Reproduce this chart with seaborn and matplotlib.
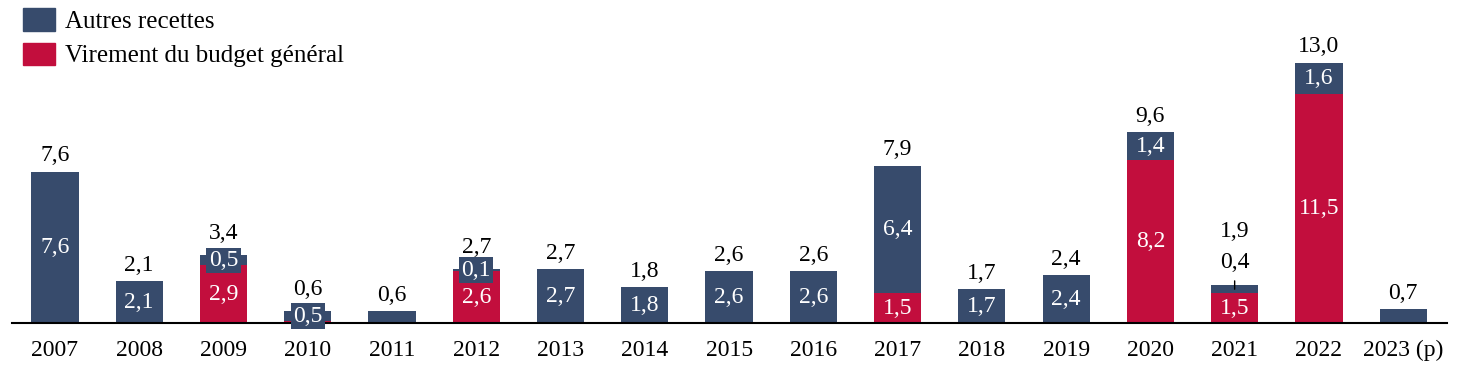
import pandas as pd
import seaborn as sns
import matplotlib.pyplot as plt
from matplotlib.patches import Patch

# données (Md€)
annees = ["2007", "2008", "2009", "2010", "2011", "2012", "2013", "2014", "2015",
          "2016", "2017", "2018", "2019", "2020", "2021", "2022", "2023 (p)"]
virement = [0, 0, 2.9, 0.1, 0, 2.6, 0, 0, 0, 0, 1.5, 0, 0, 8.2, 1.5, 11.5, 0]
autres = [7.6, 2.1, 0.5, 0.5, 0.6, 0.1, 2.7, 1.8, 2.6, 2.6, 6.4, 1.7, 2.4, 1.4, 0.4, 1.6, 0.7]
totaux = [7.6, 2.1, 3.4, 0.6, 0.6, 2.7, 2.7, 1.8, 2.6, 2.6, 7.9, 1.7, 2.4, 9.6, 1.9, 13.0, 0.7]

# étiquettes particulières
encadre = ["2009", "2010", "2012"]
au_dessus = ["2021"]
sans_etiquette = ["2011", "2023 (p)"]

NAVY = "#374B6C"
RED = "#C20E3D"
FS = 17

sns.set_style("white")
plt.rcParams['font.family'] = ['Liberation Serif', 'DejaVu Serif']
plt.rcParams['text.color'] = 'black'
plt.rcParams['xtick.color'] = 'black'


def fmt(v):
    return f"{v:.1f}".replace(".", ",")


df = pd.DataFrame({"annee": annees, "virement": virement, "autres": autres, "total": totaux})
df["empile"] = df["virement"] + df["autres"]

fig = plt.figure(figsize=(14.59, 3.79), dpi=100)
ax = fig.add_axes([12 / 1459, 56 / 379, 1435 / 1459, 323 / 379])

sns.barplot(data=df, x="annee", y="empile", color=NAVY, saturation=1, width=0.56,
            errorbar=None, linewidth=0, ax=ax)
sns.barplot(data=df, x="annee", y="virement", color=RED, saturation=1, width=0.56,
            errorbar=None, linewidth=0, ax=ax)

ax.set_xlim(-0.51, 16.52)
ax.set_ylim(0, 16.25)
ax.set_xlabel("")
ax.set_ylabel("")
ax.set_yticks([])
sns.despine(ax=ax, left=True)
ax.spines["bottom"].set_linewidth(1.5)
ax.spines["bottom"].set_color("black")
ax.tick_params(axis="x", length=0, pad=12, labelsize=FS, labelcolor="black")

for i, row in df.iterrows():
    a = row["annee"]
    v, n, tot, top = row["virement"], row["autres"], row["total"], row["empile"]
    # total au-dessus de la barre
    if a in au_dessus:
        ax.annotate(fmt(n), (i, top), xytext=(0, 9), textcoords="offset points",
                    ha="center", va="bottom", fontsize=FS)
        ax.annotate("", (i, top - 0.2), xytext=(0, 6), textcoords="offset points",
                    arrowprops=dict(arrowstyle="-", color="black", lw=1,
                                    shrinkA=0, shrinkB=0))
        ax.annotate(fmt(tot), (i, top), xytext=(0, 31), textcoords="offset points",
                    ha="center", va="bottom", fontsize=FS)
    elif a in encadre:
        ax.annotate(fmt(tot), (i, top), xytext=(0, 8), textcoords="offset points",
                    ha="center", va="bottom", fontsize=FS)
    else:
        ax.annotate(fmt(tot), (i, top), xytext=(0, 4), textcoords="offset points",
                    ha="center", va="bottom", fontsize=FS)
    # segment rouge
    if v >= 1:
        ax.text(i, v / 2, fmt(v), ha="center", va="center", color="white", fontsize=FS)
    # segment bleu
    if a in sans_etiquette or a in au_dessus:
        continue
    if a in encadre:
        ax.text(i, v + n / 2, fmt(n), ha="center", va="center", color="white", fontsize=FS,
                bbox=dict(boxstyle="square,pad=0.1", fc=NAVY, ec="none"))
    else:
        ax.text(i, v + n / 2, fmt(n), ha="center", va="center", color="white", fontsize=FS)

handles = [Patch(color=NAVY, label="Autres recettes"),
           Patch(color=RED, label="Virement du budget général")]
fig.legend(handles=handles, loc="upper left", bbox_to_anchor=(0.0155, 0.978), frameon=False,
           fontsize=18, handlelength=1.28, handleheight=1.0, handletextpad=0.4,
           labelspacing=0.38, borderaxespad=0, borderpad=0)

fig.savefig("out.png", dpi=100)
